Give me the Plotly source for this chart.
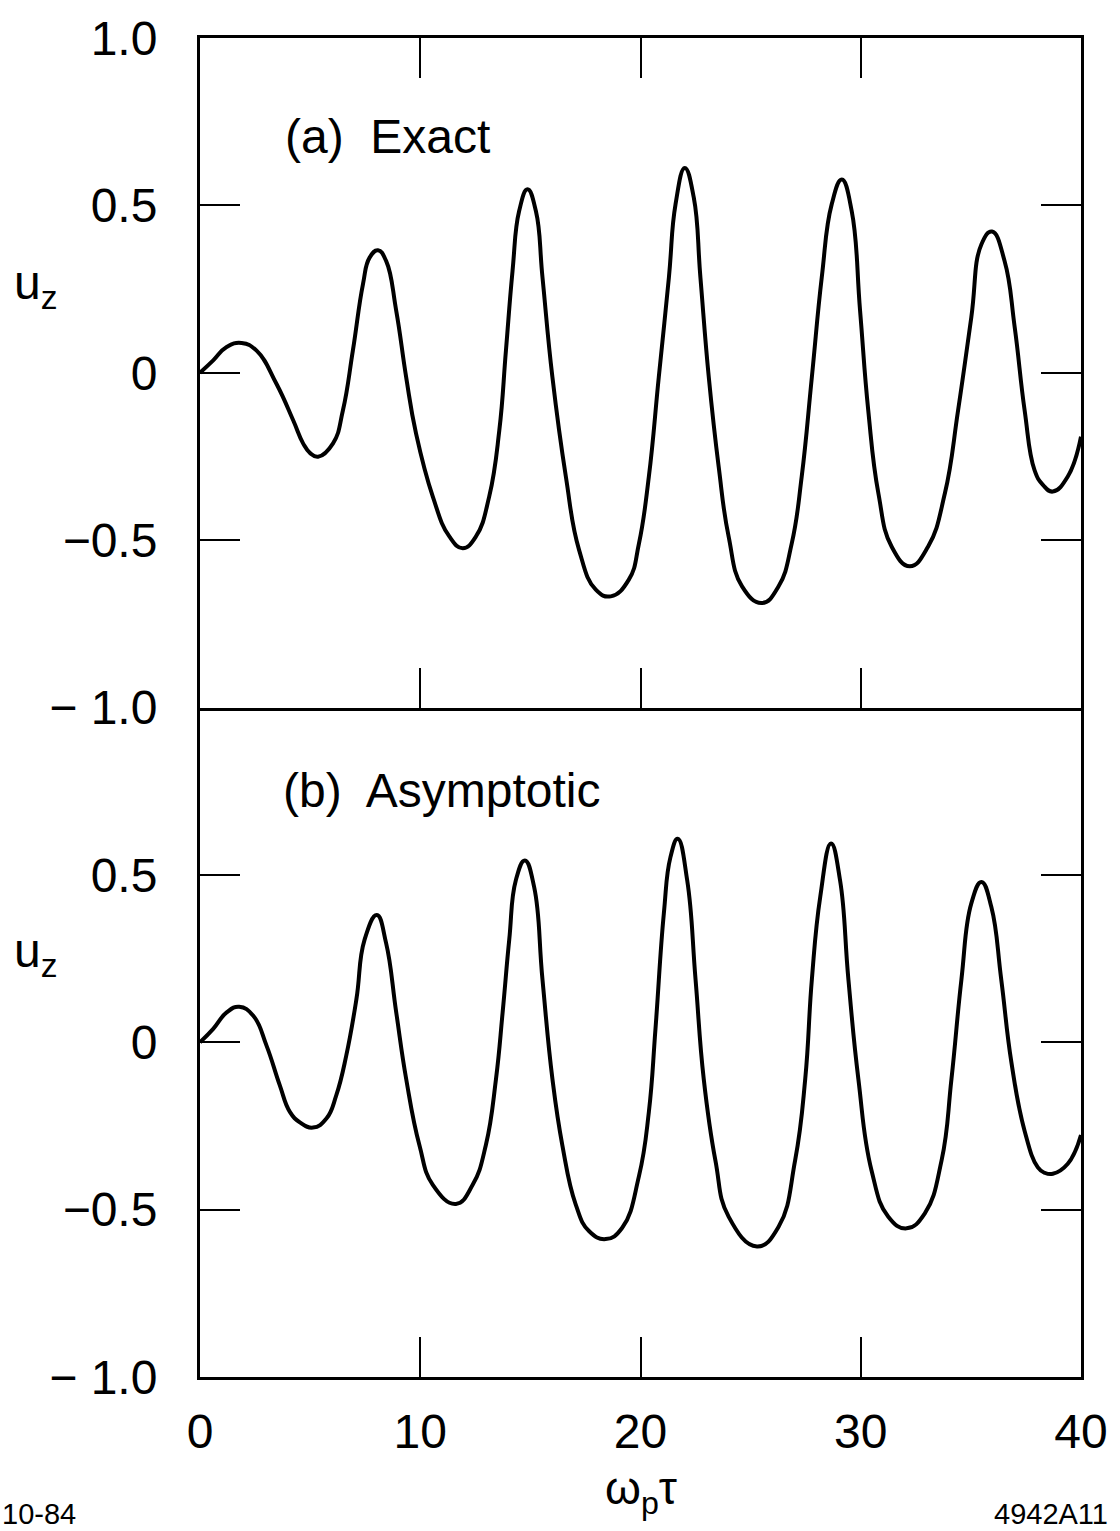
import plotly.graph_objects as go

# ---- data ----
exact_t = [0, 0.60, 1.21, 1.89, 2.57, 3.47, 4.23, 4.68, 5.0, 5.36, 6.04, 6.49, 6.94, 7.40, 7.70, 8.08, 8.45,
           8.91, 9.36, 9.81, 10.57, 11.32, 11.93, 12.53, 13.13, 13.59, 13.89, 14.19, 14.49, 14.87, 15.25,
           15.55, 16.00, 16.61, 17.21, 17.97, 18.65, 19.47, 19.93, 20.38, 20.83, 21.29, 21.59, 22.01,
           22.42, 22.72, 23.10, 23.55, 24.00, 24.61, 25.51, 26.27, 26.87, 27.32, 27.78, 28.23, 28.68,
           29.14, 29.59, 29.97, 30.34, 30.80, 31.40, 32.23, 33.06, 33.82, 34.42, 35.02, 35.48, 35.96,
           36.53, 36.99, 37.44, 37.89, 38.27, 38.72, 39.40, 40.0]
exact_u = [0.0, 0.037, 0.077, 0.089, 0.066, -0.033, -0.142, -0.211, -0.240, -0.251, -0.211, -0.112, 0.066,
           0.265, 0.344, 0.366, 0.334, 0.185, -0.013, -0.182, -0.370, -0.489, -0.524, -0.489, -0.370,
           -0.172, 0.066, 0.304, 0.483, 0.548, 0.483, 0.285, -0.013, -0.310, -0.529, -0.648, -0.668,
           -0.618, -0.51, -0.310, -0.013, 0.285, 0.503, 0.612, 0.523, 0.285, -0.013, -0.281, -0.489,
           -0.638, -0.688, -0.638, -0.509, -0.310, -0.013, 0.285, 0.503, 0.577, 0.483, 0.185, -0.112,
           -0.360, -0.519, -0.578, -0.519, -0.360, -0.112, 0.166, 0.384, 0.422, 0.334, 0.136, -0.112,
           -0.291, -0.335, -0.355, -0.310, -0.191]

asym_t = [0, 0.60, 1.21, 1.78, 2.42, 3.02, 3.62, 4.08, 4.55, 5.13, 5.74, 6.19, 6.64, 7.10, 7.47, 8.03, 8.45,
          8.91, 9.36, 9.96, 10.57, 11.62, 12.38, 12.98, 13.44, 13.74, 14.04, 14.34, 14.75, 15.17, 15.55,
          16.00, 16.45, 17.06, 17.66, 18.42, 19.17, 19.93, 20.38, 20.68, 21.06, 21.36, 21.69, 22.12,
          22.50, 22.87, 23.40, 24.00, 25.29, 26.27, 27.02, 27.48, 27.78, 28.16, 28.65, 29.06, 29.44,
          29.89, 30.49, 31.25, 32.08, 32.91, 33.67, 34.12, 34.57, 35.02, 35.48, 35.93, 36.38, 36.84,
          37.44, 38.04, 38.35, 38.72, 39.40, 40.0]
asym_u = [0.0, 0.04, 0.089, 0.106, 0.079, -0.01, -0.128, -0.208, -0.240, -0.255, -0.228, -0.158, -0.04,
          0.128, 0.306, 0.380, 0.296, 0.089, -0.109, -0.307, -0.426, -0.483, -0.426, -0.307, -0.109,
          0.089, 0.306, 0.484, 0.543, 0.464, 0.187, -0.109, -0.307, -0.485, -0.564, -0.588, -0.554,
          -0.40, -0.208, 0.04, 0.385, 0.553, 0.608, 0.484, 0.187, -0.109, -0.353, -0.521, -0.610,
          -0.551, -0.353, -0.109, 0.187, 0.434, 0.594, 0.484, 0.187, -0.109, -0.383, -0.521, -0.556,
          -0.511, -0.353, -0.109, 0.187, 0.415, 0.479, 0.404, 0.187, -0.06, -0.265, -0.374, -0.390,
          -0.393, -0.363, -0.277]

x_tickvals = [0, 10, 20, 30, 40]
x_ticktext = ["0", "10", "20", "30", "40"]
y_tickvals_top = [-1.0, -0.5, 0, 0.5, 1.0]
y_ticktext_top = ["\u2212 1.0", "\u22120.5", "0", "0.5", "1.0"]
y_tickvals_bot = [-1.0, -0.5, 0, 0.5]
y_ticktext_bot = ["\u2212 1.0", "\u22120.5", "0", "0.5"]

FONT = "Liberation Sans"
fig = go.Figure()
fig.add_trace(go.Scatter(x=exact_t, y=exact_u, mode="lines", xaxis="x", yaxis="y",
                         line=dict(color="black", width=4, shape="spline", smoothing=1.3),
                         showlegend=False))
fig.add_trace(go.Scatter(x=asym_t, y=asym_u, mode="lines", xaxis="x2", yaxis="y2",
                         line=dict(color="black", width=4, shape="spline", smoothing=1.3),
                         showlegend=False))

common_axis = dict(showline=True, linecolor="black", linewidth=3, showgrid=False, zeroline=False,
                   ticks="inside", ticklen=40, tickwidth=2, tickcolor="black",
                   tickfont=dict(family=FONT, size=48, color="black"))

fig.update_layout(
    width=1120, height=1531,
    margin=dict(l=200, r=37, t=33, b=154),
    paper_bgcolor="white", plot_bgcolor="white",
    xaxis=dict(common_axis, domain=[0, 1], range=[0, 40], anchor="y", tickvals=[10, 20, 30],
               showticklabels=False, mirror="ticks"),
    yaxis=dict(common_axis, domain=[0.5, 1], range=[-1, 1], anchor="x", tickvals=y_tickvals_top,
               ticktext=y_ticktext_top, mirror="ticks", ticklabelstandoff=30),
    xaxis2=dict(common_axis, domain=[0, 1], range=[0, 40], anchor="y2", tickvals=x_tickvals,
                ticktext=x_ticktext, mirror=False, ticklabelstandoff=10),
    yaxis2=dict(common_axis, domain=[0, 0.5], range=[-1, 1], anchor="x2", tickvals=y_tickvals_bot,
                ticktext=y_ticktext_bot, mirror="ticks", ticklabelstandoff=30),
)

ann_font = dict(family=FONT, size=48, color="black")
fig.add_annotation(text="(a)  Exact", xref="paper", yref="paper", x=(283 - 200) / 883, y=1 - (132 - 33) / 1344,
                   xanchor="left", yanchor="middle", showarrow=False, font=ann_font)
fig.add_annotation(text="(b)  Asymptotic", xref="paper", yref="paper", x=(281 - 200) / 883,
                   y=1 - (788 - 33) / 1344, xanchor="left", yanchor="middle", showarrow=False, font=ann_font)
fig.add_annotation(text="u<sub>z</sub>", xref="paper", yref="paper", x=(12 - 200) / 883,
                   y=1 - (282 - 33) / 1344, xanchor="left", yanchor="middle", showarrow=False, font=ann_font)
fig.add_annotation(text="u<sub>z</sub>", xref="paper", yref="paper", x=(12 - 200) / 883,
                   y=1 - (952 - 33) / 1344, xanchor="left", yanchor="middle", showarrow=False, font=ann_font)
fig.add_annotation(text="\u03c9<sub>p</sub>\u03c4", xref="paper", yref="paper", x=0.5,
                   y=1 - (1492 - 33) / 1344, xanchor="center", yanchor="middle", showarrow=False,
                   font=dict(family=FONT, size=46, color="black"))
fig.add_annotation(text="10-84", xref="paper", yref="paper", x=(0 - 200) / 883, y=1 - (1515 - 33) / 1344,
                   xanchor="left", yanchor="middle", showarrow=False,
                   font=dict(family=FONT, size=29, color="black"))
fig.add_annotation(text="4942A11", xref="paper", yref="paper", x=(1112 - 200) / 883,
                   y=1 - (1515 - 33) / 1344, xanchor="right", yanchor="middle", showarrow=False,
                   font=dict(family=FONT, size=29, color="black"))

fig.write_html("out.html")
